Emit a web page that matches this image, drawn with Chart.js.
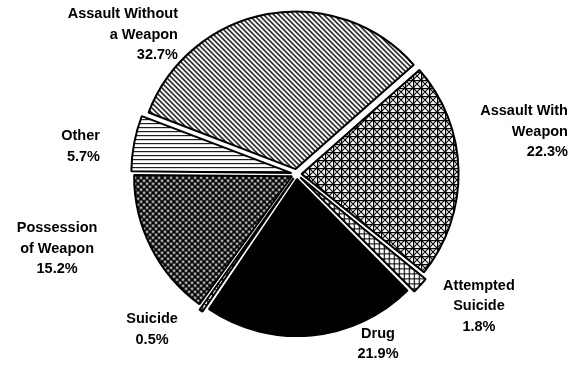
<!DOCTYPE html>
<html>
<head>
<meta charset="utf-8">
<script src="https://cdn.jsdelivr.net/npm/chart.js@4/dist/chart.umd.min.js"></script>
<style>
    html, body { margin: 0; padding: 0; background: #fff; }
    #wrap { width: 576px; height: 365px; position: relative; }
</style>
</head>
<body>
<div id="wrap"><canvas id="offenseChart" width="576" height="365"></canvas></div>
<script>
// categories, in drawing order (clockwise from the upper left)
const categories = [
    ['Assault Without', 'a Weapon'],
    ['Assault With', 'Weapon'],
    ['Attempted', 'Suicide'],
    ['Drug'],
    ['Suicide'],
    ['Possession', 'of Weapon'],
    ['Other']
];
const percents = [32.7, 22.3, 1.8, 21.9, 0.5, 15.2, 5.7];
const percentLabels = ['32.7%', '22.3%', '1.8%', '21.9%', '0.5%', '15.2%', '5.7%'];

// where each label sits, in units of the pie radius from its centre
const labelSpots = [
    { ux: -0.755, uy: -1.019, align: 'right' },
    { ux: 1.729, uy: -0.401, align: 'right' },
    { ux: 1.162, uy: 0.713, align: 'center' },
    { ux: 0.519, uy: 1.019, align: 'center' },
    { ux: -0.920, uy: 0.924, align: 'center' },
    { ux: -1.525, uy: 0.344, align: 'center' },
    { ux: -1.252, uy: -0.242, align: 'right' }
];

function makeTile(size, drawFn) {
    const c = document.createElement('canvas');
    c.width = size;
    c.height = size;
    const g = c.getContext('2d');
    g.fillStyle = '#fff';
    g.fillRect(0, 0, size, size);
    g.strokeStyle = '#000';
    g.fillStyle = '#000';
    drawFn(g, size);
    return document.getElementById('offenseChart').getContext('2d').createPattern(c, 'repeat');
}

// diagonal "\" stripes
const diagonal = makeTile(5, (g, s) => {
    g.lineWidth = 1.4;
    g.beginPath();
    g.moveTo(-1, -1); g.lineTo(s + 1, s + 1);
    g.moveTo(-1, s - 1); g.lineTo(1, s + 1);
    g.moveTo(s - 1, -1); g.lineTo(s + 1, 1);
    g.stroke();
});

// square lattice with crossing diagonals
const lattice = makeTile(8, (g, s) => {
    g.lineWidth = 1.4;
    g.beginPath();
    g.moveTo(0, 0.5); g.lineTo(s, 0.5);
    g.moveTo(0.5, 0); g.lineTo(0.5, s);
    g.stroke();
    g.lineWidth = 1.1;
    g.beginPath();
    g.moveTo(0, 0); g.lineTo(s, s);
    g.moveTo(s, 0); g.lineTo(0, s);
    g.stroke();
});

// small open squares
const squares = makeTile(5, (g, s) => {
    g.lineWidth = 1.2;
    g.beginPath();
    g.moveTo(0, 0.5); g.lineTo(s, 0.5);
    g.moveTo(0.5, 0); g.lineTo(0.5, s);
    g.stroke();
});

// dark stipple: black with little white holes
const stipple = makeTile(6, (g, s) => {
    g.fillRect(0, 0, s, s);
    g.fillStyle = '#fff';
    g.beginPath();
    g.arc(1.5, 1.5, 1.2, 0, Math.PI * 2);
    g.arc(4.5, 4.5, 1.2, 0, Math.PI * 2);
    g.fill();
});

// horizontal lines
const horizontal = makeTile(4, (g, s) => {
    g.lineWidth = 1.1;
    g.beginPath();
    g.moveTo(0, 0.5); g.lineTo(s, 0.5);
    g.stroke();
});

const fills = [diagonal, lattice, squares, '#000', squares, stipple, horizontal];

const sliceLabels = {
    id: 'sliceLabels',
    afterDraw(chart) {
        const ctx = chart.ctx;
        const arc = chart.getDatasetMeta(0).data[0];
        const r = arc.outerRadius;
        ctx.save();
        ctx.font = 'bold 14.5px "Liberation Sans", Arial, sans-serif';
        ctx.fillStyle = '#000';
        ctx.textBaseline = 'middle';
        categories.forEach((lines, i) => {
            const spot = labelSpots[i];
            const x = arc.x + spot.ux * r;
            let y = arc.y + spot.uy * r;
            ctx.textAlign = spot.align;
            lines.concat([percentLabels[i]]).forEach(line => {
                ctx.fillText(line, x, y);
                y += 20.5;
            });
        });
        ctx.restore();
    }
};

new Chart(document.getElementById('offenseChart'), {
    type: 'pie',
    data: {
        labels: categories.map(c => c.join(' ')),
        datasets: [{
            data: percents,
            backgroundColor: fills,
            borderColor: '#000',
            borderWidth: 2,
            offset: 20
        }]
    },
    options: {
        responsive: false,
        animation: false,
        rotation: -69,
        radius: 157,
        layout: { padding: { top: 6, bottom: 23, left: 17, right: 0 } },
        plugins: {
            legend: { display: false },
            tooltip: { enabled: false }
        }
    },
    plugins: [sliceLabels]
});
</script>
</body>
</html>
